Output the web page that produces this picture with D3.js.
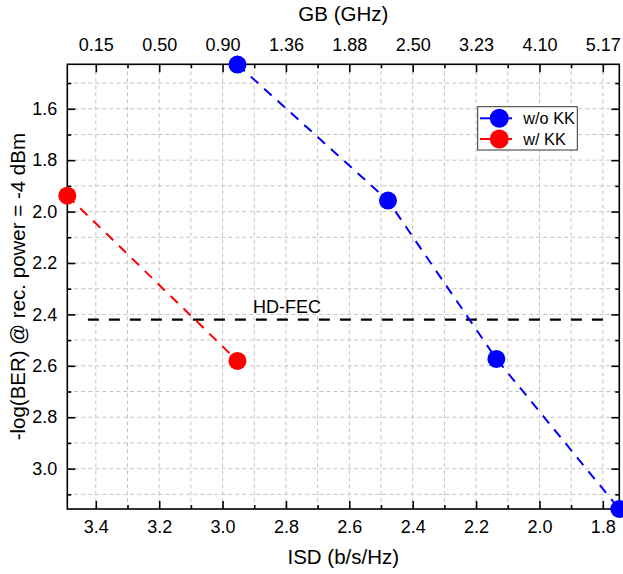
<!DOCTYPE html>
<html><head><meta charset="utf-8">
<script src="https://cdn.jsdelivr.net/npm/d3@7"></script>
<style>body{margin:0;background:#fff}svg{display:block;font-family:"Liberation Sans",Arial,sans-serif}</style>
</head><body><svg id="c" width="623" height="574"></svg>
<script>
// ---- data ----
const isdMajor = [3.4, 3.2, 3.0, 2.8, 2.6, 2.4, 2.2, 2.0, 1.8];
const isdMinor = [3.3, 3.1, 2.9, 2.7, 2.5, 2.3, 2.1, 1.9];
const gbLabels = ["0.15", "0.50", "0.90", "1.36", "1.88", "2.50", "3.23", "4.10", "5.17"];
const berMajor = [1.6, 1.8, 2.0, 2.2, 2.4, 2.6, 2.8, 3.0];
const berMinor = [1.5, 1.7, 1.9, 2.1, 2.3, 2.5, 2.7, 2.9, 3.1];
const woKK_isd = [2.953, 2.478, 2.136, 1.748];
const woKK_ber = [1.428, 1.957, 2.573, 3.157];
const wKK_isd = [3.49, 2.953];
const wKK_ber = [1.938, 2.581];
const hdfecLevel = 2.42;
const hdfecSpan = [3.425, 1.78];
const seriesNames = ["w/o KK", "w/ KK"];

(function () {
// ---- layout ----
const L = 67.3, R = 619.3, T = 64.3, B = 509;
const svg = d3.select("#c");
const x = d3.scaleLinear().domain([3.49, 1.748]).range([L, R]);
const y = d3.scaleLinear().domain([1.427, 3.157]).range([T, B]);
const FS = 18;

// grid
const g = svg.append("g");
isdMajor.concat(isdMinor).forEach(v => {
  g.append("line").attr("x1", x(v)).attr("x2", x(v)).attr("y1", T).attr("y2", B)
   .attr("stroke", "#c4c4c4").attr("stroke-width", 1).attr("stroke-dasharray", "4,3");
});
berMajor.concat(berMinor).forEach(v => {
  g.append("line").attr("x1", L).attr("x2", R).attr("y1", y(v)).attr("y2", y(v))
   .attr("stroke", "#c4c4c4").attr("stroke-width", 1).attr("stroke-dasharray", "4,3");
});

// axes
function styleAxis(sel) {
  sel.select(".domain").remove();
  sel.selectAll("line").attr("stroke", "#000").attr("stroke-width", 1.6);
  sel.selectAll("text").attr("font-size", FS).attr("fill", "#000").attr("font-family", '"Liberation Sans",Arial,sans-serif');
}
const bot = svg.append("g").attr("transform", `translate(0,${B})`)
  .call(d3.axisBottom(x).tickValues(isdMajor).tickFormat(d3.format(".1f")).tickSizeInner(-8).tickSizeOuter(0).tickPadding(11));
styleAxis(bot);
const botm = svg.append("g").attr("transform", `translate(0,${B})`)
  .call(d3.axisBottom(x).tickValues(isdMinor).tickFormat("").tickSizeInner(-4).tickSizeOuter(0));
styleAxis(botm);
const topA = svg.append("g").attr("transform", `translate(0,${T})`)
  .call(d3.axisTop(x).tickValues(isdMajor).tickFormat((d, i) => gbLabels[i]).tickSizeInner(-8).tickSizeOuter(0).tickPadding(13));
styleAxis(topA);
const topm = svg.append("g").attr("transform", `translate(0,${T})`)
  .call(d3.axisTop(x).tickValues(isdMinor).tickFormat("").tickSizeInner(-4).tickSizeOuter(0));
styleAxis(topm);
const lef = svg.append("g").attr("transform", `translate(${L},0)`)
  .call(d3.axisLeft(y).tickValues(berMajor).tickFormat(d3.format(".1f")).tickSizeInner(-8).tickSizeOuter(0).tickPadding(10));
styleAxis(lef);
const lefm = svg.append("g").attr("transform", `translate(${L},0)`)
  .call(d3.axisLeft(y).tickValues(berMinor).tickFormat("").tickSizeInner(-4).tickSizeOuter(0));
styleAxis(lefm);
const rig = svg.append("g").attr("transform", `translate(${R},0)`)
  .call(d3.axisRight(y).tickValues(berMajor).tickFormat("").tickSizeInner(-8).tickSizeOuter(0));
styleAxis(rig);
const rigm = svg.append("g").attr("transform", `translate(${R},0)`)
  .call(d3.axisRight(y).tickValues(berMinor).tickFormat("").tickSizeInner(-4).tickSizeOuter(0));
styleAxis(rigm);

// frame
svg.append("rect").attr("x", L).attr("y", T).attr("width", R - L).attr("height", B - T)
  .attr("fill", "none").attr("stroke", "#000").attr("stroke-width", 1.6);

// HD-FEC
svg.append("line").attr("x1", x(hdfecSpan[0])).attr("x2", x(hdfecSpan[1]))
  .attr("y1", y(hdfecLevel)).attr("y2", y(hdfecLevel))
  .attr("stroke", "#000").attr("stroke-width", 2.3).attr("stroke-dasharray", "11,10");
svg.append("text").attr("x", 253).attr("y", y(hdfecLevel) - 7).attr("font-size", 18).text("HD-FEC");

// series
const line = d3.line().x(d => x(d[0])).y(d => y(d[1]));
const series = [
  {name: seriesNames[0], color: "#0000ff", pts: d3.zip(woKK_isd, woKK_ber)},
  {name: seriesNames[1], color: "#ff0000", pts: d3.zip(wKK_isd, wKK_ber)}
];
series.forEach(s => {
  svg.append("path").attr("d", line(s.pts)).attr("fill", "none")
    .attr("stroke", s.color).attr("stroke-width", 2).attr("stroke-dasharray", "10,8");
});
series.forEach(s => {
  svg.selectAll(null).data(s.pts).enter().append("circle")
    .attr("cx", d => x(d[0])).attr("cy", d => y(d[1])).attr("r", 9).attr("fill", s.color);
});

// legend
const lg = svg.append("g");
lg.append("rect").attr("x", 477.7).attr("y", 106.7).attr("width", 99.6).attr("height", 43.3)
  .attr("fill", "#fff").attr("stroke", "#333").attr("stroke-width", 1);
series.forEach((s, i) => {
  const cy = 118.3 + i * 20.7;
  lg.append("line").attr("x1", 480).attr("x2", 512).attr("y1", cy).attr("y2", cy)
    .attr("stroke", s.color).attr("stroke-width", 2);
  lg.append("circle").attr("cx", 499.3).attr("cy", cy).attr("r", 9.5).attr("fill", s.color);
  lg.append("text").attr("x", 523.3).attr("y", cy + 6).attr("font-size", 16.3).text(s.name);
});

// titles
svg.append("text").attr("x", (L + R) / 2).attr("y", 21).attr("text-anchor", "middle").attr("font-size", 20.5).text("GB (GHz)");
svg.append("text").attr("x", (L + R) / 2).attr("y", 564).attr("text-anchor", "middle").attr("font-size", 20.5).text("ISD (b/s/Hz)");
svg.append("text").attr("transform", `translate(25,${(T + B) / 2}) rotate(-90)`)
  .attr("text-anchor", "middle").attr("font-size", 20.5).text("-log(BER) @ rec. power = -4 dBm");
})();
</script></body></html>
